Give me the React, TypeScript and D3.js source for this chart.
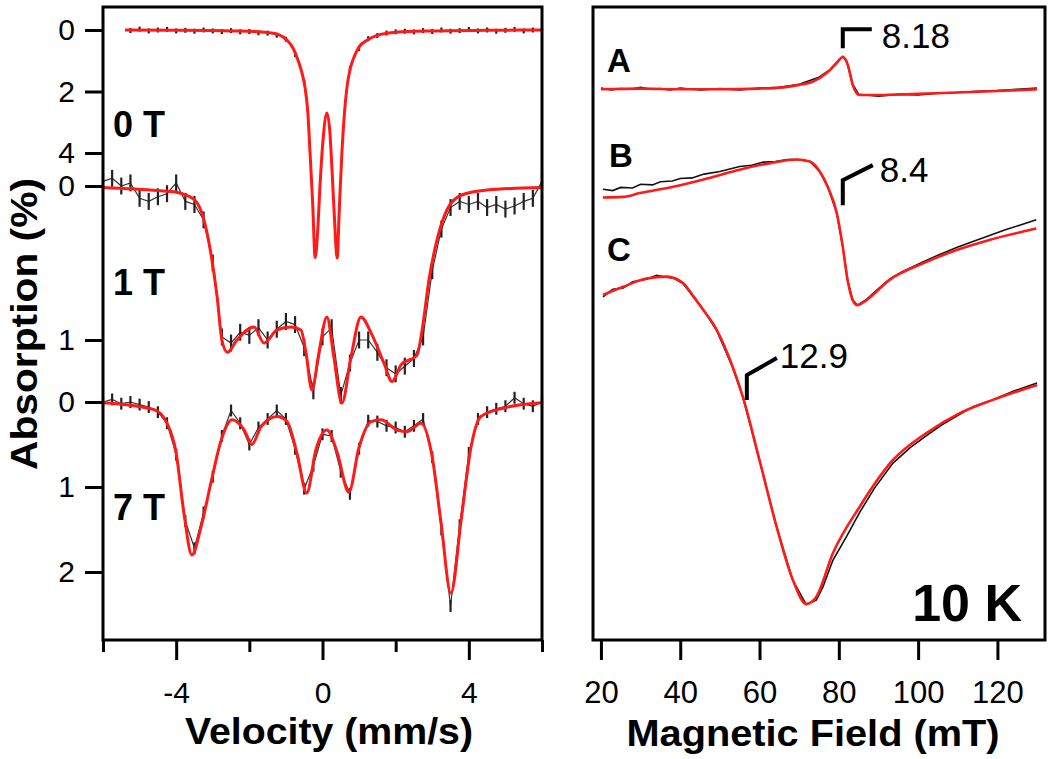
import React, { useEffect, useRef } from "react";
import * as d3 from "d3";

// ---- Mossbauer spectra (left panel), absorption in % ----
// fit curves: [velocity (mm/s), absorption (%)]
const fit0T = [
  [-5.4, 0.0], [-4, 0.01], [-3, 0.02], [-2, 0.04], [-1.5, 0.08], [-1.2, 0.15],
  [-0.97, 0.33], [-0.8, 0.6], [-0.67, 0.98], [-0.55, 1.45], [-0.48, 1.85],
  [-0.4, 2.7], [-0.34, 4.0], [-0.27, 5.6], [-0.2, 7.4], [-0.13, 6.5],
  [-0.07, 5.1], [0.02, 3.5], [0.12, 2.7], [0.2, 3.3], [0.26, 4.55],
  [0.33, 6.2], [0.4, 7.42], [0.46, 5.8], [0.53, 4.0], [0.6, 2.7],
  [0.67, 1.85], [0.75, 1.3], [0.83, 0.98], [1.0, 0.55], [1.22, 0.33],
  [1.57, 0.15], [2.0, 0.07], [3.0, 0.03], [4.5, 0.01], [6, 0.0],
];
const fit1T = [
  [-6, 0.01], [-4.5, 0.03], [-4, 0.04], [-3.5, 0.09], [-3.24, 0.22],
  [-3.05, 0.44], [-2.88, 0.72], [-2.75, 1.0], [-2.6, 1.08], [-2.34, 1.0],
  [-1.87, 0.915], [-1.6, 1.02], [-1.24, 0.935], [-0.86, 0.915], [-0.59, 0.935],
  [-0.45, 1.085], [-0.29, 1.325], [-0.1, 1.085], [0.12, 0.85], [0.31, 1.11],
  [0.53, 1.41], [0.78, 1.11], [1.05, 0.85], [1.33, 0.955], [1.68, 1.15],
  [1.9, 1.27], [2.15, 1.16], [2.58, 1.1], [2.72, 0.94], [2.91, 0.61],
  [3.13, 0.35], [3.4, 0.156], [3.79, 0.06], [4.5, 0.026], [6, 0.01],
];
const fit7T = [
  [-6, 0.01], [-4.6, 0.09], [-4.25, 0.25], [-4.0, 0.6], [-3.79, 1.3],
  [-3.57, 1.8], [-3.32, 1.47], [-3.05, 0.95], [-2.77, 0.45], [-2.47, 0.21],
  [-2.14, 0.33], [-1.93, 0.5], [-1.68, 0.29], [-1.24, 0.17], [-0.97, 0.23],
  [-0.7, 0.6], [-0.43, 1.07], [-0.18, 0.56], [0.12, 0.33], [0.4, 0.59],
  [0.72, 1.06], [1.0, 0.53], [1.33, 0.23], [1.6, 0.21], [2.04, 0.33],
  [2.31, 0.35], [2.69, 0.25], [3.0, 0.65], [3.24, 1.42], [3.51, 2.25],
  [3.79, 1.39], [4.06, 0.53], [4.33, 0.17], [4.96, 0.07], [6, 0.01],
];

// measured points, one per velocity channel (-6 ... 6 mm/s, 0.25 step)
const channels = d3.range(-6, 6.001, 0.25);
const data0T = [
  null, null, null, 0.02, -0.03, 0.03, 0.0, -0.02, 0.03, 0.01, 0.04, 0.0,
  0.03, 0.05, 0.02, 0.06, 0.05, 0.09, 0.1, 0.17, 0.3, 0.8, 1.7, null,
  null, null, null, 1.25, 0.6, 0.28, 0.18, 0.1, 0.06, 0.04, 0.06, 0.02,
  0.05, 0.0, 0.04, 0.02, -0.02, 0.03, 0.0, 0.04, 0.01, -0.02, 0.03, 0.0, 0.02,
];
const data1T = [
  -0.03, -0.05, 0.0, -0.02, 0.08, 0.1, 0.07, 0.05, -0.02, 0.1, 0.12, 0.22,
  0.5, 0.98, 1.02, 0.95, 0.97, 0.92, 1.0, 0.93, 0.88, 0.9, 1.05, 1.33,
  0.98, 0.92, 1.36, 1.15, 1.0, 1.0, 1.08, 1.18, 1.22, 1.17, 1.12, 0.98,
  0.55, 0.28, 0.14, 0.1, 0.12, 0.1, 0.14, 0.12, 0.15, 0.13, 0.1, 0.08, -0.03,
];
const data7T = [
  0.0, -0.03, 0.02, 0.0, 0.03, 0.06, 0.12, 0.25, 0.62, 1.4, 1.72, 1.3,
  0.88, 0.4, 0.1, 0.25, 0.5, 0.3, 0.2, 0.1, 0.2, 0.55, 1.02, 0.75,
  0.38, 0.4, 0.82, 1.08, 0.55, 0.22, 0.23, 0.28, 0.3, 0.35, 0.28, 0.2,
  0.65, 1.5, 2.4, 1.45, 0.6, 0.2, 0.12, 0.08, 0.05, -0.05, 0.02, 0.05, 0.0,
];

// ---- EPR spectra (right panel), signal in arbitrary units ----
// [field (mT), signal]
const fitA = [
  [20, 87.0], [30, 87.1], [40, 87.0], [50, 87.0], [60, 87.1], [66, 87.3],
  [70, 87.7], [73.4, 88.2], [77, 89.6], [79.5, 91.2], [81, 92.1], [82.3, 90.8],
  [83.5, 87.7], [85.2, 86.1], [90, 86.1], [100, 86.3], [115, 86.6], [130, 87.0],
];
const dataA = [
  [20, 87.2], [22.5, 86.9], [25, 87.1], [27.5, 87.0], [30, 87.3], [32.5, 87.0],
  [35, 87.1], [37.5, 86.9], [40, 87.2], [45, 86.9], [50, 87.1], [55, 86.9],
  [60, 87.2], [65, 87.3], [70, 87.8], [75, 88.9], [78, 90.2], [80, 91.6],
  [81, 92.2], [82, 91.4], [83.5, 87.8], [85, 86.2], [90, 85.9], [95, 86.2],
  [100, 86.1], [105, 86.4], [110, 86.5], [115, 86.7], [120, 86.8], [125, 87.0], [130, 87.2],
];
const fitB = [
  [20.5, 69.9], [25.6, 70.0], [29.8, 70.6], [38.2, 71.6], [46.7, 72.9],
  [55, 74.3], [63.3, 75.4], [69.4, 75.9], [72.7, 75.6], [75.2, 74.0],
  [77.2, 71.6], [79.5, 67.4], [81, 62.1], [82.2, 56.9], [83.5, 53.7],
  [84.7, 52.9], [87, 53.7], [92.8, 56.9], [101.2, 59.5], [109.7, 61.6],
  [118, 63.2], [129.8, 65.0],
];
const dataB = [
  [20.5, 71.2], [23, 71.0], [25, 71.5], [28, 71.4], [30, 72.0], [33, 71.9],
  [35, 72.4], [38, 72.5], [40, 72.9], [43, 73.0], [46, 73.6], [50, 74.0],
  [55, 74.8], [58, 75.0], [61, 75.5], [64, 75.6], [67, 75.9], [69.4, 75.9],
  [72.7, 75.6], [75.2, 74.0], [77.2, 71.6], [79.5, 67.4], [81, 62.1],
  [82.2, 56.9], [83.5, 53.7], [84.7, 52.9], [87, 53.8], [90, 55.5],
  [92.8, 57.0], [96, 58.2], [101.2, 59.7], [105, 60.8], [109.7, 62.0],
  [114, 63.0], [118, 63.9], [122, 64.8], [126, 65.6], [129.8, 66.4],
];
const fitC = [
  [20.5, 54.5], [25.6, 55.8], [31.5, 57.1], [36.6, 57.4], [40.7, 56.4],
  [43.2, 54.4], [45.5, 52.4], [49.2, 49.0], [53.2, 43.2], [55.8, 38.4],
  [60, 28.4], [64.3, 17.9], [68.4, 9.5], [71.8, 5.7], [74.3, 6.8],
  [78.5, 13.7], [85.3, 21.1], [93.6, 28.4], [102.1, 32.7], [110.4, 35.8],
  [118.7, 37.9], [130, 40.3],
];
const dataC = [
  [20.5, 54.2], [23, 55.4], [25.6, 55.6], [28, 56.6], [31.5, 57.0], [34, 57.6],
  [36.6, 57.3], [38.5, 57.1], [40.7, 56.3], [43.2, 54.3], [45.5, 52.5],
  [49.2, 48.9], [53.2, 43.1], [55.8, 38.4], [60, 28.4], [64.3, 17.9],
  [68.4, 9.4], [71.8, 5.6], [74.3, 6.3], [76, 8.4], [78.5, 12.6], [82, 16.4],
  [85.3, 20.2], [89, 24.0], [93.6, 27.9], [98, 30.4], [102.1, 32.3],
  [106, 34.0], [110.4, 35.6], [114, 36.9], [118.7, 37.9], [124, 39.3], [130, 40.6],
];

// g-value markers: field (mT), signal at the foot of the marker
const gLabels = ["8.18", "8.4", "12.9"];
const gFields = [81, 81, 56.8];
const gSignals = [93.5, 68.7, 37.9];

const App = () => {
  const chartRef = useRef<SVGSVGElement>(null);

  useEffect(() => {
    const svg = d3.select(chartRef.current);
    svg.selectAll("*").remove();
    const font = "'Liberation Sans', Arial, Helvetica, sans-serif";
    const red = "#ff1a1a";
    const plain = (d: any) => String(d); // keeps "-4" with a hyphen

    // scales
    const xV = d3.scaleLinear().domain([-6, 6]).range([103, 542]);
    const y0T = d3.scaleLinear().domain([0, 4]).range([30, 153]);
    const y1T = d3.scaleLinear().domain([0, 1]).range([186, 340]);
    const y7T = d3.scaleLinear().domain([0, 2]).range([402, 572]);
    const xB = d3.scaleLinear().domain([18, 132]).range([593, 1045]);
    const yS = d3.scaleLinear().domain([0, 100]).range([640, 7]);

    // ---------- left panel ----------
    const spectra = [
      { fit: fit0T, data: data0T, y: y0T, ticks: [0, 2, 4], err: 0.08, label: "0 T", ly: 137 },
      { fit: fit1T, data: data1T, y: y1T, ticks: [0, 1], err: 0.055, label: "1 T", ly: 295 },
      { fit: fit7T, data: data7T, y: y7T, ticks: [0, 1, 2], err: 0.07, label: "7 T", ly: 520 },
    ];

    spectra.forEach((s) => {
      // y ticks for this spectrum
      const ax = svg.append("g")
        .attr("transform", "translate(103,0)")
        .call(d3.axisLeft(s.y).tickValues(s.ticks).tickSize(18).tickPadding(10).tickFormat(plain));
      ax.select(".domain").remove();
      ax.selectAll("line").attr("stroke-width", 3);
      ax.selectAll("text")
        .attr("font-size", 30)
        .attr("font-family", font)
        .attr("dy", "0.33em");

      // data points: thin trace plus short error bars
      const pts = channels
        .map((v, i) => [v, s.data[i]])
        .filter((d) => d[1] !== null) as number[][];
      if (s.label !== "0 T") {
        svg.append("path")
          .attr("d", d3.line<number[]>().x((d) => xV(d[0])).y((d) => s.y(d[1]))(pts))
          .attr("fill", "none")
          .attr("stroke", "#333")
          .attr("stroke-width", 1.2);
      }
      svg.append("g")
        .selectAll("line")
        .data(pts)
        .enter()
        .append("line")
        .attr("x1", (d) => xV(d[0]))
        .attr("x2", (d) => xV(d[0]))
        .attr("y1", (d) => s.y(d[1] - s.err))
        .attr("y2", (d) => s.y(d[1] + s.err))
        .attr("stroke", "#222")
        .attr("stroke-width", 2.2);

      // fit
      const line = d3.line<number[]>()
        .x((d) => xV(d[0]))
        .y((d) => s.y(d[1]))
        .curve(d3.curveMonotoneX);
      svg.append("path")
        .attr("d", line(s.fit))
        .attr("fill", "none")
        .attr("stroke", red)
        .attr("stroke-width", 3);

      svg.append("text")
        .attr("x", 113)
        .attr("y", s.ly)
        .attr("font-family", font)
        .attr("font-weight", "bold")
        .attr("font-size", 36)
        .text(s.label);
    });

    // frame
    svg.append("rect")
      .attr("x", 103).attr("y", 7).attr("width", 439).attr("height", 633)
      .attr("fill", "none").attr("stroke", "#000").attr("stroke-width", 3);

    // x axis: major and minor ticks
    const xMajor = svg.append("g")
      .attr("transform", "translate(0,640)")
      .call(d3.axisBottom(xV).tickValues([-4, 0, 4]).tickSize(20).tickFormat(plain));
    xMajor.select(".domain").remove();
    xMajor.selectAll("line").attr("stroke-width", 3);
    xMajor.selectAll("text")
      .attr("y", 63).attr("dy", 0)
      .attr("font-size", 30).attr("font-family", font);

    const xMinor = svg.append("g")
      .attr("transform", "translate(0,640)")
      .call(d3.axisBottom(xV).tickValues([-6, -2, 2, 6]).tickSize(12).tickFormat(() => ""));
    xMinor.select(".domain").remove();
    xMinor.selectAll("line").attr("stroke-width", 3);

    svg.append("text")
      .attr("x", 329).attr("y", 744)
      .attr("text-anchor", "middle")
      .attr("font-family", font).attr("font-weight", "bold").attr("font-size", 36)
      .attr("textLength", 288).attr("lengthAdjust", "spacingAndGlyphs")
      .text("Velocity (mm/s)");

    svg.append("text")
      .attr("transform", "translate(37,324) rotate(-90)")
      .attr("text-anchor", "middle")
      .attr("font-family", font).attr("font-weight", "bold").attr("font-size", 36)
      .attr("textLength", 292).attr("lengthAdjust", "spacingAndGlyphs")
      .text("Absorption (%)");

    // ---------- right panel ----------
    const eprLine = d3.line<number[]>()
      .x((d) => xB(d[0]))
      .y((d) => yS(d[1]));
    const eprFit = d3.line<number[]>()
      .x((d) => xB(d[0]))
      .y((d) => yS(d[1]))
      .curve(d3.curveMonotoneX);

    const traces = [
      { fit: fitA, data: dataA, label: "A", lx: 607, ly: 72 },
      { fit: fitB, data: dataB, label: "B", lx: 609, ly: 167 },
      { fit: fitC, data: dataC, label: "C", lx: 607, ly: 261 },
    ];
    traces.forEach((t) => {
      svg.append("path")
        .attr("d", eprLine(t.data))
        .attr("fill", "none")
        .attr("stroke", "#111")
        .attr("stroke-width", 1.6);
      svg.append("path")
        .attr("d", eprFit(t.fit))
        .attr("fill", "none")
        .attr("stroke", red)
        .attr("stroke-width", 2.6);
      svg.append("text")
        .attr("x", t.lx).attr("y", t.ly)
        .attr("font-family", font).attr("font-weight", "bold").attr("font-size", 33)
        .text(t.label);
    });

    // g-value markers
    const shapes = [
      { up: 19, dx: 29, dy: 0, tx: 39, ty: 0 },
      { up: 25, dx: 30, dy: -15, tx: 37, ty: -23 },
      { up: 25, dx: 30, dy: -17, tx: 33, ty: -32 },
    ];
    gLabels.forEach((lab, i) => {
      const x = xB(gFields[i]);
      const y = yS(gSignals[i]);
      const sh = shapes[i];
      svg.append("path")
        .attr("d", `M${x},${y} L${x},${y - sh.up} L${x + sh.dx},${y - sh.up + sh.dy}`)
        .attr("fill", "none")
        .attr("stroke", "#000")
        .attr("stroke-width", 4);
      svg.append("text")
        .attr("x", x + sh.tx).attr("y", y + sh.ty)
        .attr("font-family", font).attr("font-size", 35)
        .text(lab);
    });

    svg.append("text")
      .attr("x", 1022).attr("y", 621)
      .attr("text-anchor", "end")
      .attr("font-family", font).attr("font-weight", "bold").attr("font-size", 52)
      .text("10 K");

    svg.append("rect")
      .attr("x", 593).attr("y", 7).attr("width", 452).attr("height", 633)
      .attr("fill", "none").attr("stroke", "#000").attr("stroke-width", 3);

    const xAxB = svg.append("g")
      .attr("transform", "translate(0,640)")
      .call(d3.axisBottom(xB).tickValues([20, 40, 60, 80, 100, 120]).tickSize(20).tickFormat(plain));
    xAxB.select(".domain").remove();
    xAxB.selectAll("line").attr("stroke-width", 3);
    xAxB.selectAll("text")
      .attr("y", 63).attr("dy", 0)
      .attr("font-size", 31).attr("font-family", font);

    svg.append("text")
      .attr("x", 813).attr("y", 746)
      .attr("text-anchor", "middle")
      .attr("font-family", font).attr("font-weight", "bold").attr("font-size", 36)
      .attr("textLength", 373).attr("lengthAdjust", "spacingAndGlyphs")
      .text("Magnetic Field (mT)");
  }, []);

  return (
    <svg
      ref={chartRef}
      width={1050}
      height={759}
      style={{ position: "absolute", left: 0, top: 0, background: "#fff" }}
    />
  );
};

export default App;
